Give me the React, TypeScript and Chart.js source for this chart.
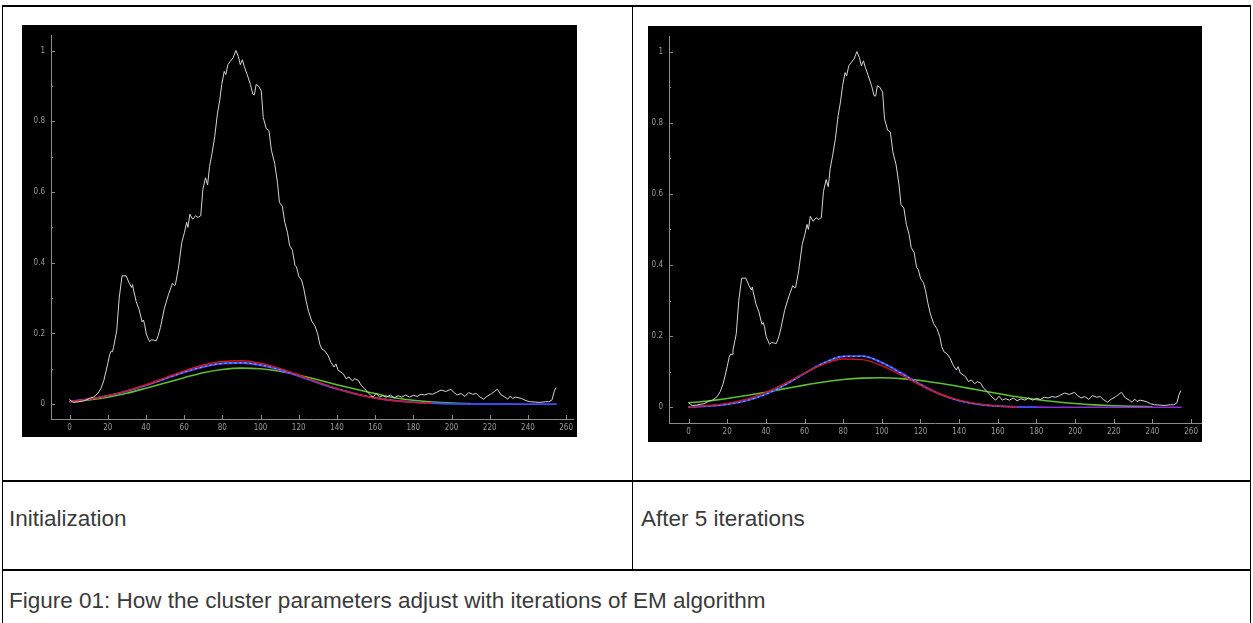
import React, { useEffect, useRef } from "react";
import { Chart, registerables } from "chart.js";
Chart.register(...registerables);

// ---------- data ----------
const histX = [0, 1, 2, 4, 6, 8, 10.6, 12.5, 14.8, 16.5, 18, 20, 21, 21.8, 22.5, 23, 24.7, 26, 27.5, 29.6, 31.3, 32.5, 33, 33.4, 34.9, 36.4, 38, 38.7, 39.3, 40.2, 41.9, 43, 44, 45.4, 46.5, 47.6, 49.7, 51.8, 53.9, 55, 55.4, 57, 58.8, 60.2, 61.3, 62, 63, 64.5, 66, 67.2, 68.7, 69.8, 71.2, 72.3, 73.3, 74.6, 76, 77.4, 78.6, 79.7, 81, 81.8, 82.9, 84.1, 85.6, 87.1, 88.4, 89.4, 90.5, 91.5, 93, 94.7, 96, 96.8, 97.7, 98.9, 100.4, 101.4, 103, 104.4, 105.7, 107.4, 108.9, 109.9, 111.4, 112.7, 114.1, 115.2, 116.7, 118, 118.8, 120.1, 121.5, 122.6, 123.9, 125.1, 126.8, 128.5, 130, 131, 132.1, 133.6, 135.3, 136.8, 138.5, 139.5, 140.6, 142, 143.3, 144.8, 146.3, 148, 149.4, 151.1, 152.6, 154.3, 156, 157.5, 159, 160.6, 162.3, 164, 166, 168, 170, 172, 174, 176, 178, 180, 182, 184, 186, 188, 190, 192, 194.5, 197, 199.7, 201, 203, 205, 207, 209, 211, 213, 214.5, 216.7, 218.5, 221, 222.5, 224, 226, 228, 229.4, 230.8, 232, 233.6, 236.7, 239, 241, 244, 246, 249.4, 251, 252.6, 253.7, 254.7];
const histY = [0.014, 0.008, 0.005, 0.006, 0.008, 0.01, 0.017, 0.02, 0.03, 0.045, 0.068, 0.114, 0.14, 0.15, 0.148, 0.16, 0.207, 0.3, 0.363, 0.363, 0.342, 0.33, 0.338, 0.326, 0.29, 0.268, 0.233, 0.238, 0.226, 0.198, 0.177, 0.182, 0.181, 0.179, 0.195, 0.217, 0.272, 0.31, 0.342, 0.335, 0.337, 0.384, 0.458, 0.486, 0.514, 0.5, 0.537, 0.523, 0.533, 0.528, 0.533, 0.607, 0.64, 0.62, 0.672, 0.709, 0.756, 0.82, 0.858, 0.904, 0.941, 0.932, 0.96, 0.969, 0.979, 1.0, 0.983, 0.96, 0.974, 0.955, 0.932, 0.904, 0.876, 0.875, 0.904, 0.9, 0.886, 0.811, 0.779, 0.774, 0.718, 0.681, 0.625, 0.57, 0.56, 0.514, 0.486, 0.449, 0.435, 0.393, 0.388, 0.361, 0.351, 0.328, 0.291, 0.263, 0.235, 0.221, 0.198, 0.17, 0.156, 0.151, 0.138, 0.119, 0.105, 0.114, 0.096, 0.091, 0.086, 0.072, 0.077, 0.066, 0.072, 0.068, 0.054, 0.045, 0.035, 0.026, 0.02, 0.031, 0.02, 0.024, 0.02, 0.026, 0.018, 0.024, 0.02, 0.026, 0.02, 0.025, 0.022, 0.028, 0.026, 0.03, 0.028, 0.033, 0.04, 0.036, 0.042, 0.034, 0.026, 0.03, 0.022, 0.033, 0.028, 0.03, 0.022, 0.014, 0.022, 0.03, 0.036, 0.042, 0.026, 0.02, 0.014, 0.023, 0.016, 0.02, 0.016, 0.01, 0.007, 0.006, 0.005, 0.007, 0.007, 0.012, 0.035, 0.047];

const curveX = [0, 10, 20, 30, 40, 50, 60, 70, 80, 90, 100, 110, 120, 130, 140, 150, 160, 170, 180, 190, 200, 210, 220, 230, 240, 250, 255];

// Initialization
const initRed = [0.0078, 0.0141, 0.0239, 0.0376, 0.0549, 0.0746, 0.0942, 0.1107, 0.1208, 0.1226, 0.1156, 0.1014, 0.0826, 0.0626, 0.0441, 0.0289, 0.0176, 0.0099, 0.0052, 0.0026];
const initBlue = [0.008, 0.0143, 0.0239, 0.0372, 0.0538, 0.0725, 0.0911, 0.1065, 0.116, 0.1176, 0.1111, 0.0978, 0.0801, 0.0611, 0.0434, 0.0288, 0.0177, 0.0102, 0.0055, 0.0027, 0.0013, 0.0005, 0.0002, 0.0001, 0, 0, 0];
const initCyan = [0.0082, 0.0146, 0.0242, 0.0374, 0.0538, 0.0722, 0.0905, 0.1058, 0.1153, 0.117, 0.111, 0.0982, 0.081, 0.0622, 0.0446, 0.0299, 0.0187, 0.0109];
const initPurple = [0.0079, 0.0141, 0.0236, 0.0366, 0.0529, 0.0713, 0.0896, 0.1047, 0.1141, 0.1157, 0.1093, 0.0962, 0.0788, 0.0601, 0.0427, 0.0283, 0.0174, 0.01, 0.0054, 0.0027, 0.0013, 0.0005, 0.0002, 0.0001, 0, 0, 0];
const initGreen = [0.007, 0.012, 0.02, 0.031, 0.045, 0.06, 0.075, 0.089, 0.098, 0.102, 0.1, 0.093, 0.082, 0.069, 0.055, 0.042, 0.03, 0.018, 0.011, 0.006, 0.003, 0.0015];

// After 5 iterations
const iterRed = [0.0018, 0.0047, 0.011, 0.0228, 0.0416, 0.0673, 0.0961, 0.1214, 0.1357, 0.134, 0.117, 0.0904, 0.0617, 0.0372, 0.0199, 0.0094, 0.0039, 0.0014];
const iterBlue = [0.001, 0.0031, 0.008, 0.0183, 0.0364, 0.063, 0.0951, 0.1251, 0.1435, 0.1435, 0.1251, 0.0951, 0.063, 0.0364, 0.0183, 0.008, 0.0031, 0.001, 0.0003];
const iterCyan = [0.0011, 0.0033, 0.0083, 0.0186, 0.0366, 0.063, 0.0948, 0.1246, 0.143, 0.1433, 0.1254, 0.0957, 0.0637, 0.037, 0.0187, 0.0083, 0.0033, 0.0011];
const iterPurple = [0.0012, 0.0035, 0.0086, 0.019, 0.037, 0.0634, 0.095, 0.1243, 0.1424, 0.1436, 0.1268, 0.0972, 0.065, 0.0379, 0.0192, 0.0085, 0.0033, 0.0011, 0.0003, 0.0001, 0, 0, 0, 0, 0, 0, 0];
const iterGreen = [0.0122, 0.0176, 0.0246, 0.0329, 0.0424, 0.0524, 0.0622, 0.071, 0.0778, 0.0819, 0.083, 0.0806, 0.0753, 0.0676, 0.0583, 0.0483, 0.0385, 0.0294, 0.0216, 0.0153, 0.0104, 0.0068, 0.0042, 0.0025, 0.0015];

const xTicks = [0, 20, 40, 60, 80, 100, 120, 140, 160, 180, 200, 220, 240, 260];
const yTicks = [0, 0.2, 0.4, 0.6, 0.8, 1];
const yMinorTicks = [0.1, 0.3, 0.5, 0.7, 0.9];

const captionLeft = "Initialization";
const captionRight = "After 5 iterations";
const figureCaption = "Figure 01: How the cluster parameters adjust with iterations of EM algorithm";

// ---------- helpers ----------
const AXIS_COLOR = "#8c8c8c";
const LABEL_COLOR = "#9a9a9a";

const pts = (xs: number[], ys: number[]) => ys.map((y, i) => ({ x: xs[i], y }));

const tickMarks = {
  id: "tickMarks",
  afterDraw(chart: any) {
    const { ctx, chartArea } = chart;
    const x = chart.scales.x;
    const y = chart.scales.y;
    ctx.save();
    ctx.strokeStyle = AXIS_COLOR;
    ctx.lineWidth = 1;
    ctx.beginPath();
    xTicks.forEach((v) => {
      const px = Math.round(x.getPixelForValue(v)) + 0.5;
      ctx.moveTo(px, chartArea.bottom);
      ctx.lineTo(px, chartArea.bottom - 4);
    });
    yTicks.forEach((v) => {
      const py = Math.round(y.getPixelForValue(v)) + 0.5;
      ctx.moveTo(chartArea.left, py);
      ctx.lineTo(chartArea.left + 4, py);
    });
    yMinorTicks.forEach((v) => {
      const py = Math.round(y.getPixelForValue(v)) + 0.5;
      ctx.moveTo(chartArea.left, py);
      ctx.lineTo(chartArea.left + 2, py);
    });
    ctx.stroke();
    ctx.restore();
  },
};

type Curves = { red: number[]; blue: number[]; cyan: number[]; purple: number[]; green: number[] };

type Geo = { xMin: number; xMax: number; yMin: number; yMax: number; yW: number; xH: number; padTop: number };

function EMChart({ width, height, curves, geo }: { width: number; height: number; curves: Curves; geo: Geo }) {
  const ref = useRef<HTMLCanvasElement | null>(null);
  useEffect(() => {
    if (!ref.current) return;
    const gauss = (data: number[], color: string, w = 1.6, dash: number[] = []) => ({
      data: pts(curveX, data),
      borderColor: color,
      borderWidth: w,
      borderDash: dash,
      pointRadius: 0,
      fill: false,
      cubicInterpolationMode: "monotone" as const,
    });
    const font = { family: "'DejaVu Sans Condensed', 'DejaVu Sans', sans-serif", size: 8 };
    const chart = new Chart(ref.current, {
      type: "line",
      data: {
        datasets: [
          { data: pts(histX, histY), borderColor: "#d4d4d4", borderWidth: 1, pointRadius: 0, tension: 0, fill: false },
          gauss(curves.red, "#d4141e", 1.4),
          gauss(curves.cyan, "#5cc8ff", 1.1, [2, 3]),
          gauss(curves.blue, "#3050ff"),
          gauss(curves.purple, "#8a2ad8"),
          gauss(curves.green, "#5cc030"),
        ],
      },
      options: {
        animation: false,
        responsive: false,
        maintainAspectRatio: false,
        layout: { padding: { top: geo.padTop, right: 0, left: 0, bottom: 0 } },
        plugins: { legend: { display: false }, tooltip: { enabled: false } },
        scales: {
          x: {
            type: "linear",
            min: geo.xMin,
            max: geo.xMax,
            afterBuildTicks: (s: any) => {
              s.ticks = xTicks.map((v) => ({ value: v }));
            },
            afterFit: (s: any) => {
              s.height = geo.xH;
            },
            grid: { display: false, drawTicks: false },
            border: { display: true, color: AXIS_COLOR, width: 1 },
            ticks: { color: LABEL_COLOR, font, padding: 4, autoSkip: false, maxRotation: 0, callback: (v: any) => String(v) },
          },
          y: {
            type: "linear",
            min: geo.yMin,
            max: geo.yMax,
            afterBuildTicks: (s: any) => {
              s.ticks = yTicks.map((v) => ({ value: v }));
            },
            afterFit: (s: any) => {
              s.width = geo.yW;
            },
            grid: { display: false, drawTicks: false },
            border: { display: true, color: AXIS_COLOR, width: 1 },
            ticks: { color: LABEL_COLOR, font, padding: 6, autoSkip: false, callback: (v: any) => String(v) },
          },
        },
      },
      plugins: [tickMarks],
    });
    return () => chart.destroy();
  }, []);
  return <canvas ref={ref} width={width} height={height} style={{ display: "block", background: "#000", width, height }} />;
}

const abs = (left: number, top: number, width: number, height: number, extra: any = {}) => ({
  position: "absolute" as const,
  left,
  top,
  width,
  height,
  ...extra,
});

const textStyle = {
  position: "absolute" as const,
  fontFamily: "'Liberation Sans', Arial, sans-serif",
  fontSize: 22.5,
  color: "#3a3a3a",
  whiteSpace: "nowrap" as const,
  lineHeight: "26px",
};

export default function App() {
  return (
    <div style={{ position: "absolute", left: 0, top: 0, width: 1253, height: 623, background: "#fff", overflow: "hidden" }}>
      {/* table borders */}
      <div style={abs(2, 5, 1249, 2, { background: "#000" })} />
      <div style={abs(2, 5, 1, 618, { background: "#000" })} />
      <div style={abs(1250, 5, 1, 618, { background: "#000" })} />
      <div style={abs(632, 5, 1, 565, { background: "#000" })} />
      <div style={abs(2, 480, 1249, 2, { background: "#000" })} />
      <div style={abs(2, 569, 1249, 2, { background: "#000" })} />

      <div style={abs(22, 25, 555, 412)}>
        <EMChart
          width={555}
          height={412}
          curves={{ red: initRed, blue: initBlue, cyan: initCyan, purple: initPurple, green: initGreen }}
          geo={{ xMin: -9.7, xMax: 263.9, yMin: -0.0419, yMax: 1.0416, yW: 29, xH: 18, padTop: 6 }}
        />
      </div>
      <div style={abs(648, 26, 554, 416)}>
        <EMChart
          width={554}
          height={416}
          curves={{ red: iterRed, blue: iterBlue, cyan: iterCyan, purple: iterPurple, green: iterGreen }}
          geo={{ xMin: -10.1, xMax: 265.4, yMin: -0.0443, yMax: 1.0416, yW: 21, xH: 19, padTop: 5 }}
        />
      </div>

      <div style={{ ...textStyle, left: 9, top: 506 }}>{captionLeft}</div>
      <div style={{ ...textStyle, left: 641, top: 506 }}>{captionRight}</div>
      <div style={{ ...textStyle, left: 9, top: 588 }}>{figureCaption}</div>
    </div>
  );
}
